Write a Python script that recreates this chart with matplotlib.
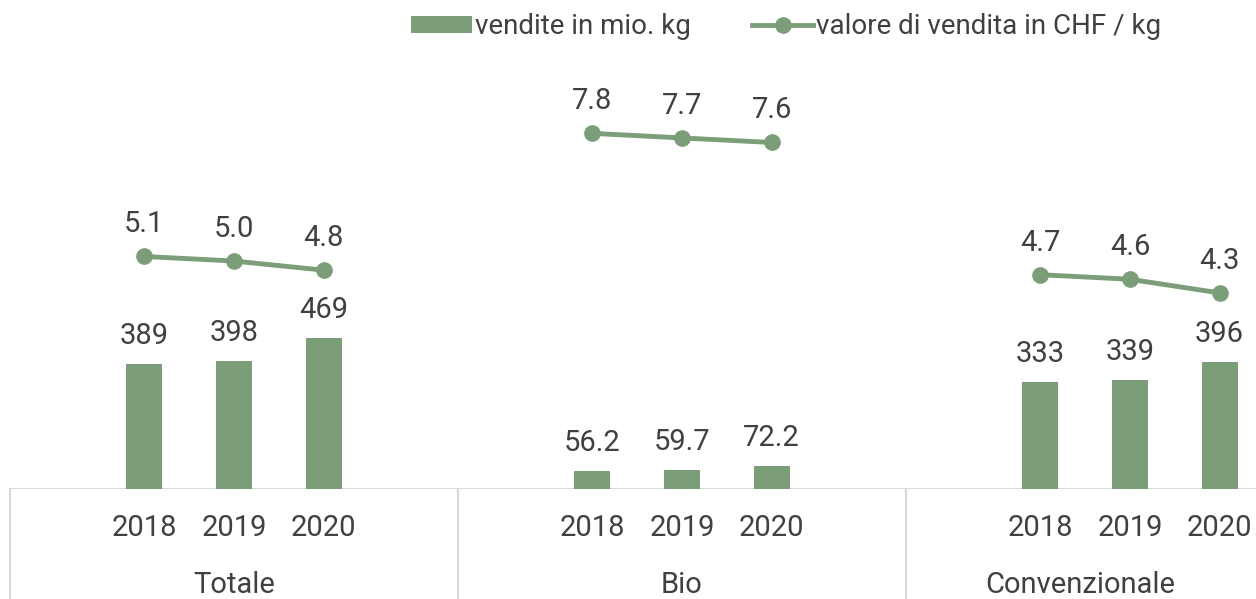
import matplotlib.pyplot as plt
import numpy as np

plt.rcParams['font.family'] = ['Roboto', 'DejaVu Sans']

groups = ['Totale', 'Bio', 'Convenzionale']
years = ['2018', '2019', '2020']
vendite = [389, 398, 469, 56.2, 59.7, 72.2, 333, 339, 396]
valore = [5.1, 5.0, 4.8, 7.8, 7.7, 7.6, 4.7, 4.6, 4.3]
vendite_lbl = ['389', '398', '469', '56.2', '59.7', '72.2', '333', '339', '396']

GREEN = '#7b9e79'
TXT = '#404040'
GRID = '#d9d9d9'
FS = 21

fig = plt.figure(figsize=(12.56, 5.99), dpi=100)
# 5 slots per group, first and last slot of each group empty
ax = fig.add_axes([10 / 1256, 110 / 599, 1344 / 1256, 450 / 599])
ax2 = ax.twinx()

pos = []
for g in range(len(groups)):
    for k in range(len(years)):
        pos.append(g * 5 + 1 + k)
pos = np.array(pos)

bars = ax.bar(pos, vendite, width=0.4, color=GREEN, label='vendite in mio. kg', zorder=2)
ax.set_ylim(0, 1400)
ax.set_xlim(-0.5, 14.5)

for x, v, s in zip(pos, vendite, vendite_lbl):
    ax.annotate(s, (x, v), xytext=(0, 10), textcoords='offset points',
                ha='center', va='bottom', fontsize=FS, color=TXT)

ax2.set_ylim(0, 9.87)
handle_line = None
for g in range(len(groups)):
    xs = pos[g * 3:(g + 1) * 3]
    ys = valore[g * 3:(g + 1) * 3]
    handle_line, = ax2.plot(xs, ys, color=GREEN, lw=3.5, marker='o', markersize=11,
                            label='valore di vendita in CHF / kg', zorder=3)
    for x, v in zip(xs, ys):
        ax2.annotate(f'{v:.1f}', (x, v), xytext=(0, 13), textcoords='offset points',
                     ha='center', va='bottom', fontsize=FS, color=TXT)

for a in (ax, ax2):
    for sp in a.spines.values():
        sp.set_visible(False)
    a.set_yticks([])
    a.set_xticks([])

# category axis
ax.axhline(0, color=GRID, lw=1.5, zorder=1)
trans = ax.get_xaxis_transform()
for xsep in [-0.5, 4.5, 9.5]:
    ax.plot([xsep, xsep], [0, -0.3], color=GRID, lw=1.5, transform=trans, clip_on=False)
for x, i in zip(pos, range(len(pos))):
    ax.text(x, -39 / 450, years[i % 3], transform=trans, ha='center', va='center',
            fontsize=FS, color=TXT)
# group labels are centred on the visible part of each group
group_x = [2, 7, (9.5 + 13.4) / 2]
for gx, name in zip(group_x, groups):
    ax.text(gx, -96 / 450, name, transform=trans, ha='center', va='center',
            fontsize=FS, color=TXT)

fig.legend(handles=[bars, handle_line], loc='center', bbox_to_anchor=(0.626, 0.955),
           ncol=2, frameon=False, fontsize=20, labelcolor=TXT, handlelength=2.2,
           handleheight=0.6, handletextpad=0.1, columnspacing=2.2)

fig.savefig('out.png', dpi=100)
